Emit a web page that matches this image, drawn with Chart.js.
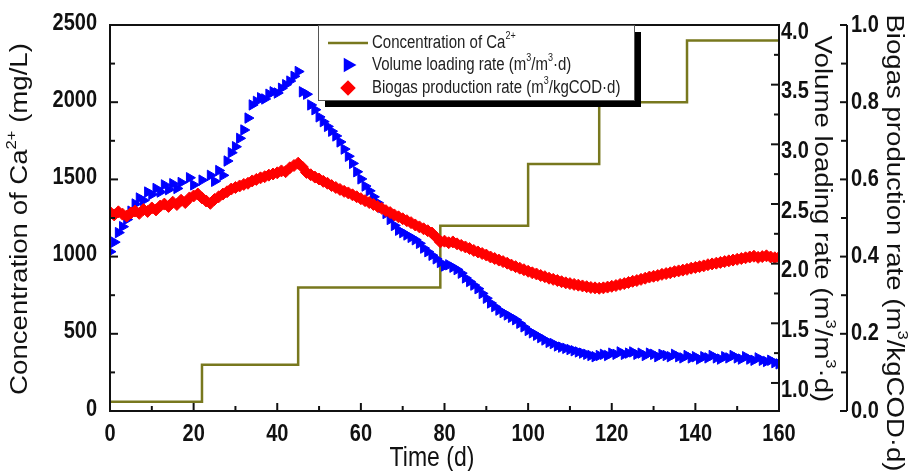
<!DOCTYPE html>
<html>
<head>
<meta charset="utf-8">
<script src="https://cdn.jsdelivr.net/npm/chart.js@4.4.1/dist/chart.umd.min.js"></script>
<style>
  html, body { margin: 0; padding: 0; background: #fff; }
</style>
</head>
<body>
<canvas id="chart" width="912" height="471"></canvas>
<script>
// Ca2+ concentration steps (mg/L), left axis
const caDays = [0, 22, 45, 79, 100, 117, 138, 160];
const caValues = [60, 300, 800, 1200, 1600, 2000, 2400, 2400];

// volume loading rate (m3/m3.d), first right axis
const volDays = [
  0, 1, 2, 3, 4, 5, 6, 7, 8, 9, 10, 11, 12, 13, 14, 15, 16, 17,
  19, 20, 22, 24, 25, 26, 27, 28, 29, 30, 31, 32, 33,
  34, 35, 36, 37, 38, 39, 40, 41, 42, 43, 44, 45, 46, 47, 48, 49,
  50, 51, 52, 53, 54, 55, 56, 57, 58, 59, 60, 61, 62, 63, 64, 65, 66, 67, 68, 69,
  70, 71, 72, 73, 74, 75, 76, 77, 78, 79, 80, 81, 82, 83, 84, 85, 86, 87, 88, 89,
  90, 91, 92, 93, 94, 95, 96, 97, 98, 99, 100, 101, 102, 103, 104, 105, 106, 107, 108, 109,
  110, 111, 112, 113, 114, 115, 116, 117, 118, 119, 120, 121, 122, 123, 124, 125, 126, 127, 128, 129,
  130, 131, 132, 133, 134, 135, 136, 137, 138, 139, 140, 141, 142, 143, 144, 145, 146, 147, 148, 149,
  150, 151, 152, 153, 154, 155, 156, 157, 158, 159, 160
];
const volValues = [
  2.10, 2.18, 2.26, 2.31, 2.37, 2.44, 2.50, 2.55, 2.53, 2.60, 2.58, 2.63, 2.60, 2.66, 2.62, 2.67, 2.63, 2.68,
  2.72, 2.66, 2.70, 2.74, 2.69, 2.78, 2.74, 2.86, 2.93, 2.98, 3.05, 3.12, 3.22,
  3.33, 3.36, 3.39, 3.38, 3.42, 3.44, 3.43, 3.47, 3.50, 3.53, 3.57, 3.61, 3.44, 3.42, 3.33, 3.29,
  3.23, 3.19, 3.15, 3.11, 3.07, 3.02, 2.96, 2.90, 2.84, 2.77, 2.71, 2.65, 2.61, 2.56, 2.51, 2.47, 2.42, 2.37, 2.32, 2.28,
  2.26, 2.24, 2.22, 2.20, 2.17, 2.13, 2.10, 2.07, 2.04, 2.01, 1.98, 1.99, 1.97, 1.95, 1.92, 1.88, 1.85, 1.82, 1.79, 1.75,
  1.71, 1.67, 1.64, 1.61, 1.59, 1.57, 1.55, 1.53, 1.50, 1.47, 1.44, 1.42, 1.40, 1.38, 1.36, 1.34, 1.33, 1.31, 1.30, 1.29,
  1.28, 1.27, 1.26, 1.25, 1.24, 1.23, 1.22, 1.23, 1.24, 1.23, 1.25, 1.24, 1.26, 1.24, 1.25, 1.26, 1.24, 1.25, 1.23, 1.25,
  1.24, 1.22, 1.24, 1.23, 1.22, 1.24, 1.22, 1.21, 1.23, 1.21, 1.22, 1.20, 1.22, 1.21, 1.23, 1.21, 1.20, 1.22, 1.21, 1.23,
  1.21, 1.20, 1.22, 1.20, 1.19, 1.21, 1.19, 1.18, 1.19, 1.17, 1.16
];

// biogas production rate (m3/kgCOD.d), one value per day from day 0
const bioValues = [
  0.515, 0.508, 0.516, 0.510, 0.505, 0.513, 0.518, 0.512, 0.522, 0.517,
  0.526, 0.521, 0.531, 0.536, 0.530, 0.541, 0.535, 0.546, 0.540, 0.552,
  0.557, 0.562, 0.552, 0.544, 0.538, 0.548, 0.555, 0.562, 0.568, 0.575,
  0.579, 0.583, 0.587, 0.590, 0.596, 0.600, 0.604, 0.607, 0.611, 0.614,
  0.617, 0.622, 0.620, 0.630, 0.636, 0.642, 0.632, 0.618, 0.612, 0.606,
  0.601, 0.595, 0.590, 0.584, 0.579, 0.574, 0.569, 0.565, 0.560, 0.555,
  0.550, 0.545, 0.540, 0.535, 0.530, 0.525, 0.519, 0.514, 0.508, 0.503,
  0.498, 0.493, 0.488, 0.482, 0.477, 0.472, 0.467, 0.461, 0.450, 0.438,
  0.440, 0.436, 0.438, 0.433, 0.429, 0.425, 0.421, 0.416, 0.412, 0.408,
  0.404, 0.399, 0.395, 0.391, 0.387, 0.383, 0.378, 0.374, 0.370, 0.366,
  0.362, 0.358, 0.355, 0.351, 0.348, 0.344, 0.341, 0.338, 0.335, 0.332,
  0.330, 0.328, 0.326, 0.324, 0.322, 0.320, 0.319, 0.318, 0.319, 0.321,
  0.323, 0.325, 0.328, 0.330, 0.333, 0.336, 0.338, 0.341, 0.344, 0.347,
  0.349, 0.351, 0.354, 0.356, 0.358, 0.361, 0.363, 0.365, 0.367, 0.370,
  0.372, 0.374, 0.376, 0.379, 0.381, 0.383, 0.385, 0.387, 0.389, 0.391,
  0.393, 0.395, 0.397, 0.399, 0.401, 0.398, 0.400, 0.402, 0.399, 0.397, 0.398
];

// ticks
const xTicks = [0, 20, 40, 60, 80, 100, 120, 140, 160];
const xMinor = [10, 30, 50, 70, 90, 110, 130, 150];
const caTicks = [0, 500, 1000, 1500, 2000, 2500];
const caMinor = [250, 750, 1250, 1750, 2250];
const volTicks = [1.0, 1.5, 2.0, 2.5, 3.0, 3.5, 4.0];
const volMinor = [1.25, 1.75, 2.25, 2.75, 3.25, 3.75];
const bioTicks = [0, 0.2, 0.4, 0.6, 0.8, 1.0];
const bioMinor = [0.1, 0.3, 0.5, 0.7, 0.9];

const OLIVE = "#78781e";
const BLUE = "#0000ff";
const RED = "#ff0000";
const INK = "#111";
const textFamily = "'Liberation Sans', Arial, sans-serif";
const STRETCH = 1.2; // the original figure is a bit taller than wide

function fixedTicks(list) {
  return function(scale) { scale.ticks = list.map(v => ({ value: v })); };
}

// draws text parts like [["Ca"], ["2+", true]] centred or left aligned at origin
function richText(ctx, parts, size, align) {
  let total = 0;
  const widths = parts.map(p => {
    ctx.font = (p[1] ? size * 0.6 : size) + "px " + textFamily;
    const w = ctx.measureText(p[0]).width;
    total += w;
    return w;
  });
  let x = align === "center" ? -total / 2 : 0;
  ctx.textBaseline = "middle";
  ctx.textAlign = "left";
  parts.forEach((p, i) => {
    ctx.font = (p[1] ? size * 0.6 : size) + "px " + textFamily;
    ctx.fillText(p[0], x, p[1] ? -size * 0.4 : 0);
    x += widths[i];
  });
}

function tickLabel(ctx, text, x, y, align) {
  ctx.save();
  ctx.translate(x, y);
  ctx.scale(1, STRETCH);
  ctx.font = "bold 20px " + textFamily;
  ctx.textAlign = align;
  ctx.textBaseline = "middle";
  ctx.fillText(text, 0, 0);
  ctx.restore();
}

function drawTicks(ctx, scale, values, len, side) {
  values.forEach(v => {
    const p = scale.getPixelForValue(v);
    ctx.beginPath();
    if (side === "bottom") { ctx.moveTo(p, scale.top); ctx.lineTo(p, scale.top - len); }
    if (side === "left") { ctx.moveTo(scale.right, p); ctx.lineTo(scale.right + len, p); }
    if (side === "right") { ctx.moveTo(scale.left, p); ctx.lineTo(scale.left - len, p); }
    ctx.stroke();
  });
}

const framePlugin = {
  id: "frame",
  afterDatasetsDraw(chart) {
    const ctx = chart.ctx;
    const a = chart.chartArea;
    const s = chart.scales;
    ctx.save();
    ctx.strokeStyle = INK;
    ctx.lineWidth = 2;
    ctx.strokeRect(a.left, a.top, a.right - a.left, a.bottom - a.top);
    // separate biogas axis line
    ctx.beginPath();
    ctx.moveTo(s.y2.left, s.y2.top);
    ctx.lineTo(s.y2.left, s.y2.bottom);
    ctx.stroke();
    drawTicks(ctx, s.x, xTicks, 8, "bottom");
    drawTicks(ctx, s.x, xMinor, 5, "bottom");
    drawTicks(ctx, s.y, caTicks, 8, "left");
    drawTicks(ctx, s.y, caMinor, 5, "left");
    drawTicks(ctx, s.y1, volTicks, 8, "right");
    drawTicks(ctx, s.y1, volMinor, 5, "right");
    drawTicks(ctx, s.y2, bioTicks, 7, "right");
    drawTicks(ctx, s.y2, bioMinor, 6, "right");

    // tick labels
    ctx.fillStyle = INK;
    s.x.ticks.forEach(t => tickLabel(ctx, String(t.value), s.x.getPixelForValue(t.value), 434, "center"));
    s.y.ticks.forEach(t => tickLabel(ctx, String(t.value), 97, s.y.getPixelForValue(t.value) - 2, "right"));
    s.y1.ticks.forEach(t => tickLabel(ctx, t.value.toFixed(1), 781, s.y1.getPixelForValue(t.value) + 7, "left"));
    s.y2.ticks.forEach(t => tickLabel(ctx, t.value.toFixed(1), 851, s.y2.getPixelForValue(t.value), "left"));
    ctx.restore();
  },
  afterDraw(chart) {
    const ctx = chart.ctx;
    ctx.save();
    ctx.fillStyle = INK;

    // axis titles
    ctx.save();
    ctx.translate(432, 458);
    ctx.scale(1, STRETCH);
    richText(ctx, [["Time (d)"]], 23, "center");
    ctx.restore();

    ctx.save();
    ctx.translate(21, 219);
    ctx.rotate(-Math.PI / 2);
    ctx.scale(STRETCH, 1);
    richText(ctx, [["Concentration of Ca"], ["2+", true], [" (mg/L)"]], 23, "center");
    ctx.restore();

    ctx.save();
    ctx.translate(821, 219);
    ctx.rotate(Math.PI / 2);
    ctx.scale(STRETCH, 1);
    richText(ctx, [["Volume loading rate (m"], ["3", true], ["/m"], ["3", true], ["\u00b7d)"]], 23, "center");
    ctx.restore();

    ctx.save();
    ctx.translate(893, 243);
    ctx.rotate(Math.PI / 2);
    ctx.scale(STRETCH, 1);
    richText(ctx, [["Biogas production rate (m"], ["3", true], ["/kgCOD\u00b7d)"]], 23, "center");
    ctx.restore();

    // legend box with black drop shadow
    const lx = 318, ly = 25, lw = 316, lh = 75;
    ctx.fillStyle = "#000";
    ctx.fillRect(lx + 7, ly + 7, lw, lh);
    ctx.fillStyle = "#fff";
    ctx.fillRect(lx, ly, lw, lh);
    ctx.strokeStyle = "#555";
    ctx.lineWidth = 1;
    ctx.strokeRect(lx + 0.5, ly + 0.5, lw, lh);

    const ds = chart.data.datasets;
    const rows = [43, 65, 88];
    ctx.strokeStyle = OLIVE;
    ctx.lineWidth = 2.5;
    ctx.beginPath();
    ctx.moveTo(328, rows[0]);
    ctx.lineTo(368, rows[0]);
    ctx.stroke();
    [1, 2].forEach(i => {
      ctx.fillStyle = ds[i].backgroundColor;
      ctx.strokeStyle = ds[i].borderColor;
      Chart.helpers.drawPoint(ctx, {
        pointStyle: ds[i].pointStyle,
        radius: ds[i].pointRadius,
        rotation: ds[i].pointRotation || 0,
        borderWidth: 1
      }, 348, rows[i]);
    });

    ctx.fillStyle = "#222";
    const labels = [
      [["Concentration of Ca"], ["2+", true]],
      [["Volume loading rate (m"], ["3", true], ["/m"], ["3", true], ["\u00b7d)"]],
      [["Biogas production rate (m"], ["3", true], ["/kgCOD\u00b7d)"]]
    ];
    labels.forEach((parts, i) => {
      ctx.save();
      ctx.translate(372, rows[i]);
      ctx.scale(1, STRETCH);
      richText(ctx, parts, 15, "left");
      ctx.restore();
    });
    ctx.restore();
  }
};

const hiddenTicks = { display: false };
const ctx = document.getElementById("chart").getContext("2d");
new Chart(ctx, {
  type: "line",
  data: {
    datasets: [
      {
        label: "Concentration of Ca2+",
        data: caDays.map((d, i) => ({ x: d, y: caValues[i] })),
        yAxisID: "y",
        borderColor: OLIVE,
        backgroundColor: OLIVE,
        borderWidth: 2.5,
        stepped: "before",
        pointRadius: 0,
        order: 3
      },
      {
        label: "Volume loading rate (m3/m3.d)",
        data: volDays.map((d, i) => ({ x: d, y: volValues[i] })),
        yAxisID: "y1",
        showLine: false,
        pointStyle: "triangle",
        pointRotation: 90,
        pointRadius: 6,
        backgroundColor: BLUE,
        borderColor: BLUE,
        borderWidth: 1,
        order: 2
      },
      {
        label: "Biogas production rate (m3/kgCOD.d)",
        data: bioValues.map((v, i) => ({ x: i, y: v })),
        yAxisID: "y2",
        showLine: false,
        pointStyle: "rectRot",
        pointRadius: 6,
        backgroundColor: RED,
        borderColor: RED,
        borderWidth: 1,
        order: 1
      }
    ]
  },
  options: {
    responsive: false,
    animation: false,
    layout: { padding: { top: 25, left: 0, right: 0, bottom: 0 } },
    plugins: {
      legend: { display: false },
      tooltip: { enabled: false }
    },
    scales: {
      x: {
        type: "linear",
        min: 0,
        max: 160,
        afterBuildTicks: fixedTicks(xTicks),
        afterFit: s => { s.height = 60; },
        grid: { display: false, drawTicks: false },
        border: { display: false },
        ticks: hiddenTicks
      },
      y: {
        position: "left",
        min: 0,
        max: 2500,
        afterBuildTicks: fixedTicks(caTicks),
        afterFit: s => { s.width = 110; },
        grid: { display: false, drawTicks: false },
        border: { display: false },
        ticks: hiddenTicks
      },
      y1: {
        position: "right",
        weight: 0,
        min: 0.765,
        max: 4.0,
        afterBuildTicks: fixedTicks(volTicks),
        afterFit: s => { s.width = 68; },
        grid: { display: false, drawTicks: false },
        border: { display: false },
        ticks: hiddenTicks
      },
      y2: {
        position: "right",
        weight: 1,
        min: 0,
        max: 1.0,
        afterBuildTicks: fixedTicks(bioTicks),
        afterFit: s => { s.width = 65; },
        grid: { display: false, drawTicks: false },
        border: { display: false },
        ticks: hiddenTicks
      }
    }
  },
  plugins: [framePlugin]
});
</script>
</body>
</html>
